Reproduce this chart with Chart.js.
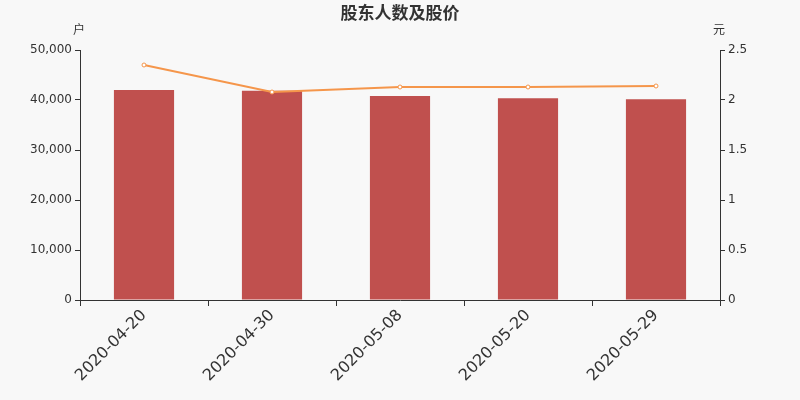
<!DOCTYPE html>
<html><head><meta charset="utf-8">
<script src="https://cdn.jsdelivr.net/npm/chart.js@4/dist/chart.umd.min.js"></script>
<style>html,body{margin:0;padding:0;background:#f8f8f8;}#wrap{width:800px;height:400px;}</style>
</head><body><div id="wrap"><canvas id="c" width="800" height="400"></canvas></div>
<script>
const categories = ['2020-04-20','2020-04-30','2020-05-08','2020-05-20','2020-05-29'];
const holders = [42000, 41870, 40800, 40330, 40130];
const prices = [2.35, 2.08, 2.13, 2.13, 2.14];
const leftTicks = [0, 10000, 20000, 30000, 40000, 50000];
const rightTicks = [0, 0.5, 1, 1.5, 2, 2.5];
const titleText = '股东人数及股价';
const leftUnit = '户';
const rightUnit = '元';

const FONT = '"DejaVu Sans","Noto Sans CJK SC",sans-serif';
const CJK = '"Noto Sans CJK SC","DejaVu Sans",sans-serif';
const textPlugin = {
  id: 'texts',
  beforeDraw(chart) {
    const ctx = chart.ctx;
    ctx.save();
    ctx.fillStyle = '#f8f8f8';
    ctx.fillRect(0, 0, chart.width, chart.height);
    ctx.restore();
  },
  afterDraw(chart) {
    const ctx = chart.ctx;
    ctx.save();
    ctx.fillStyle = '#333';
    ctx.textAlign = 'center';
    ctx.textBaseline = 'middle';
    ctx.font = 'bold 17px ' + CJK;
    ctx.fillText(titleText, 400, 13);
    ctx.font = '12px ' + CJK;
    ctx.fillText(leftUnit, 79, 29);
    ctx.fillText(rightUnit, 719, 29);
    ctx.restore();
  }
};

new Chart(document.getElementById('c'), {
  data: {
    labels: categories,
    datasets: [
      {
        type: 'line', data: prices, yAxisID: 'y1',
        borderColor: '#f5964b', borderWidth: 2,
        pointRadius: 2, pointBorderWidth: 1, pointBackgroundColor: '#fff', pointBorderColor: '#f5964b',
        tension: 0, order: 0
      },
      {
        type: 'bar', data: holders, yAxisID: 'y',
        backgroundColor: '#c0504e', categoryPercentage: 1, barPercentage: 0.47, order: 1
      }
    ]
  },
  options: {
    responsive: false, animation: false,
    devicePixelRatio: 1,
    layout: { padding: { top: 50, left: 0, right: 0, bottom: 0 } },
    plugins: { legend: { display: false }, tooltip: { enabled: false }, title: { display: false } },
    scales: {
      x: {
        offset: true,
        grid: { offset: true, drawOnChartArea: false, tickLength: 6, color: '#333' },
        border: { color: '#333', width: 1 },
        ticks: { color: '#333', font: { size: 16, family: FONT }, minRotation: 45, maxRotation: 45, padding: 0 },
        afterFit(s) { s.height = 100; }
      },
      y: {
        position: 'left', min: 0, max: 50000,
        afterBuildTicks(s) { s.ticks = leftTicks.map(v => ({ value: v })); },
        grid: { drawOnChartArea: false, tickLength: 5, color: '#333' },
        border: { color: '#333', width: 1 },
        ticks: { color: '#333', font: { size: 12, family: FONT }, padding: 3,
          callback: v => v.toLocaleString('en-US') },
        afterFit(s) { s.width = 80; }
      },
      y1: {
        position: 'right', min: 0, max: 2.5,
        afterBuildTicks(s) { s.ticks = rightTicks.map(v => ({ value: v })); },
        grid: { drawOnChartArea: false, tickLength: 5, color: '#333' },
        border: { color: '#333', width: 1 },
        ticks: { color: '#333', font: { size: 12, family: FONT }, padding: 3,
          callback: v => String(v) },
        afterFit(s) { s.width = 80; }
      }
    }
  },
  plugins: [textPlugin]
});
</script></body></html>
